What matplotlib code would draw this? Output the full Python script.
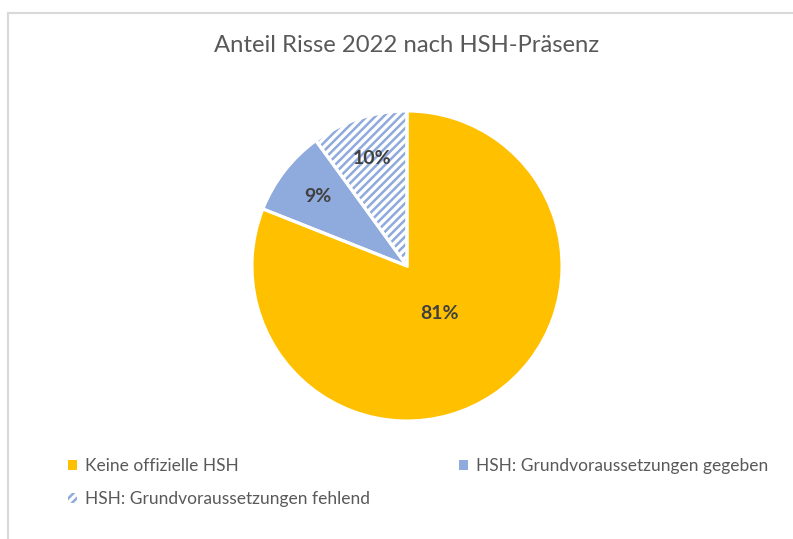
import matplotlib.pyplot as plt
import numpy as np
from matplotlib.patches import Patch
from matplotlib.lines import Line2D

# data
categories = ['Keine offizielle HSH', 'HSH: Grundvoraussetzungen gegeben',
              'HSH: Grundvoraussetzungen fehlend']
shares = [81, 9, 10]
colors = ['#FFC000', '#8FAADC', '#FFFFFF']
title = 'Anteil Risse 2022 nach HSH-Präsenz'

plt.rcParams['font.family'] = ['Lato', 'DejaVu Sans']
plt.rcParams['hatch.linewidth'] = 1.8

fig = plt.figure(figsize=(7.93, 5.39), dpi=100)
# pie axes: centre ~ (407, 266) px, radius ~155 px
ax = fig.add_axes([(407 - 155) / 793, 1 - (266 + 155) / 539, 310 / 793, 310 / 539])

wedges, texts, autotexts = ax.pie(
    shares, colors=colors, startangle=90, counterclock=False,
    autopct='%1.0f%%', pctdistance=0.73,
    wedgeprops=dict(linewidth=0),
    textprops=dict(color='#404040', fontsize=14, fontweight='bold'))

# hatched slice
wedges[2].set_edgecolor('#8FAADC')
wedges[2].set_hatch('////')
wedges[2].set_linewidth(0)

# white separators
ax.pie(shares, startangle=90, counterclock=False,
       wedgeprops=dict(fill=False, edgecolor='white', linewidth=2.2))

# big slice label closer to centre
x, y = autotexts[0].get_position()
autotexts[0].set_position((x * 0.37 / 0.73, y * 0.37 / 0.73))
ax.set_xlim(-1, 1)
ax.set_ylim(-1, 1)
ax.set_aspect('equal')

fig.suptitle(title, x=0.513, y=1 - 46 / 539, va='center', fontsize=17.2, color='#595959')

# legend (column-major order)
handles = [Patch(facecolor=colors[0], edgecolor='none'),
           Patch(facecolor='white', edgecolor='#8FAADC', hatch='////', linewidth=0),
           Patch(facecolor=colors[1], edgecolor='none')]
labels = [categories[0], categories[2], categories[1]]
leg = fig.legend(handles, labels, ncol=2, loc='upper left',
                 bbox_to_anchor=(68 / 793, 1 - 458 / 539), frameon=False,
                 borderpad=0, borderaxespad=0,
                 fontsize=12.5, labelcolor='#595959', handlelength=0.5, handleheight=0.5,
                 handletextpad=0.5, columnspacing=5.1, labelspacing=1.0)

# chart border (top and left only visible)
fig.add_artist(Line2D([7.5 / 793, 7.5 / 793], [0, 1 - 12.5 / 539], color='#D9D9D9', lw=1.5))
fig.add_artist(Line2D([7.5 / 793, 1], [1 - 12.5 / 539, 1 - 12.5 / 539], color='#D9D9D9', lw=1.5))

fig.savefig('out.png', dpi=100)
